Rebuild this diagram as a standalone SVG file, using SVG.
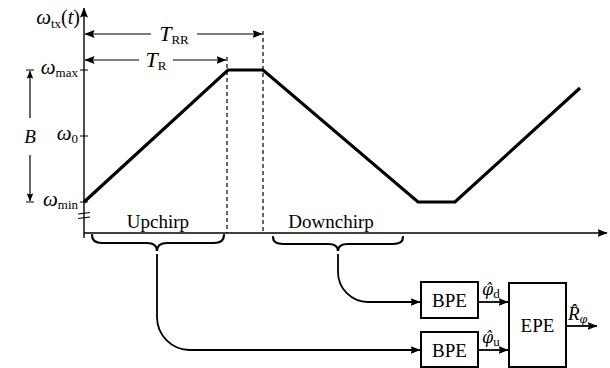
<svg xmlns="http://www.w3.org/2000/svg" width="610" height="368" viewBox="0 0 610 368">
  <defs>
    <style>
      .t { font-family: "Liberation Serif", "DejaVu Serif", serif; font-size: 19px; fill: #000; }
      .i { font-style: italic; }
      .g { font-family: "DejaVu Serif", serif; font-size: 16px; font-style: italic; }
      .gs { font-family: "DejaVu Serif", serif; font-size: 11px; font-style: italic; }
      .sub { font-size: 13px; font-style: normal; }
      .axis { stroke: #000; stroke-width: 1.4; fill: none; }
      .thin { stroke: #000; stroke-width: 1.2; fill: none; }
      .dash { stroke: #000; stroke-width: 1.2; stroke-dasharray: 4 3; fill: none; }
      .wave { stroke: #000; stroke-width: 3.2; fill: none; stroke-linejoin: miter; }
      .brace { stroke: #000; stroke-width: 2.2; fill: none; stroke-linecap: round; }
      .box { stroke: #000; stroke-width: 2; fill: #fff; }
      .wire { stroke: #000; stroke-width: 1.8; fill: none; }
    </style>
    <marker id="ah" viewBox="0 0 10 8" refX="9.5" refY="4" markerWidth="10" markerHeight="8" markerUnits="userSpaceOnUse" orient="auto-start-reverse">
      <path d="M0,0 L10,4 L0,8 L1.5,4 z" fill="#000"/>
    </marker>
    <marker id="ahs" viewBox="0 0 10 8" refX="9.5" refY="4" markerWidth="8" markerHeight="6.4" markerUnits="userSpaceOnUse" orient="auto-start-reverse">
      <path d="M0,0 L10,4 L0,8 L1.5,4 z" fill="#000"/>
    </marker>
  </defs>

  <!-- axes -->
  <g id="axes">
    <path class="axis" d="M84,238 L84,8" marker-end="url(#ah)"/>
    <path class="axis" d="M84,233 L607,233" marker-end="url(#ah)"/>
    <!-- ticks on the frequency axis -->
    <path class="thin" d="M80,70 H88 M80,136 H88 M80,202 H88"/>
    <!-- axis break -->
    <path class="thin" d="M78,214 L90,212.5 M78,218.5 L90,217"/>
  </g>

  <!-- axis labels -->
  <g id="axis-labels">
    <text class="t" x="80" y="24" text-anchor="end"><tspan class="i" font-size="21">ω</tspan><tspan class="sub" dy="4">tx</tspan><tspan dy="-4" font-size="20">(</tspan><tspan class="i" font-size="20">t</tspan><tspan font-size="20">)</tspan></text>
    <text class="t" x="78" y="74" text-anchor="end"><tspan class="i" font-size="21">ω</tspan><tspan class="sub" dy="3">max</tspan></text>
    <text class="t" x="78" y="140" text-anchor="end"><tspan class="i" font-size="21">ω</tspan><tspan class="sub" dy="3">0</tspan></text>
    <text class="t" x="78" y="206" text-anchor="end"><tspan class="i" font-size="21">ω</tspan><tspan class="sub" dy="3">min</tspan></text>
  </g>

  <!-- bandwidth B -->
  <g id="bandwidth">
    <path class="thin" d="M26,70 H34 M26,202 H34"/>
    <path class="thin" d="M30,118 V71" marker-end="url(#ahs)"/>
    <path class="thin" d="M30,155 V201" marker-end="url(#ahs)"/>
    <text class="t i" x="30" y="143" text-anchor="middle" font-size="21">B</text>
  </g>

  <!-- ramp durations -->
  <g id="durations">
    <path class="dash" d="M227,57 V233"/>
    <path class="dash" d="M263,31 V233"/>
    <path class="thin" d="M151,34 H85" marker-end="url(#ah)"/>
    <path class="thin" d="M197,34 H262" marker-end="url(#ah)"/>
    <text class="t" x="174" y="41" text-anchor="middle"><tspan class="i" font-size="22">T</tspan><tspan class="sub" dy="3">RR</tspan></text>
    <path class="thin" d="M139,60 H85" marker-end="url(#ah)"/>
    <path class="thin" d="M173,60 H226" marker-end="url(#ah)"/>
    <text class="t" x="156" y="67" text-anchor="middle"><tspan class="i" font-size="22">T</tspan><tspan class="sub" dy="3">R</tspan></text>
  </g>

  <!-- transmitted frequency -->
  <path id="chirp" class="wave" d="M84,202 L228,70 L263,70 L418,202 L455,202 L580,88"/>

  <!-- segment labels and braces -->
  <g id="upchirp">
    <text class="t" x="158" y="228" text-anchor="middle">Upchirp</text>
    <path class="brace" d="M92,235 Q92,243 102,243 L147,243 Q157,243 157,251 Q157,243 167,243 L214,243 Q224,243 224,235"/>
  </g>
  <g id="downchirp">
    <text class="t" x="331" y="228" text-anchor="middle">Downchirp</text>
    <path class="brace" d="M273,237 Q273,244 283,244 L328,244 Q338,244 338,251 Q338,244 348,244 L393,244 Q403,244 403,237"/>
  </g>

  <!-- processing blocks -->
  <g id="bpe-d">
    <rect class="box" x="421" y="282" width="57" height="36"/>
    <text class="t" x="449.5" y="307" text-anchor="middle">BPE</text>
  </g>
  <g id="bpe-u">
    <rect class="box" x="421" y="332" width="57" height="35"/>
    <text class="t" x="449.5" y="357" text-anchor="middle">BPE</text>
  </g>
  <g id="epe">
    <rect class="box" x="509" y="283" width="57" height="84"/>
    <text class="t" x="537.5" y="332" text-anchor="middle">EPE</text>
  </g>

  <!-- connectors -->
  <g id="connectors">
    <path class="wire" d="M338,254 V272 A30,30 0 0 0 368,302 H420" marker-end="url(#ah)"/>
    <path class="wire" d="M157,254 V317 A33,33 0 0 0 190,350 H420" marker-end="url(#ah)"/>
    <path class="wire" d="M478,302 H508" marker-end="url(#ah)"/>
    <path class="wire" d="M478,350 H508" marker-end="url(#ah)"/>
    <path class="wire" d="M566,326 H597" marker-end="url(#ah)"/>
  </g>

  <!-- estimate labels -->
  <g id="estimates">
    <text class="t" x="482" y="295"><tspan class="g">φ̂</tspan><tspan class="sub" dy="3">d</tspan></text>
    <text class="t" x="482" y="343"><tspan class="g">φ̂</tspan><tspan class="sub" dy="3">u</tspan></text>
    <text class="t" x="568" y="320"><tspan class="i">R̂</tspan><tspan class="gs" dy="3">φ</tspan></text>
  </g>
</svg>
